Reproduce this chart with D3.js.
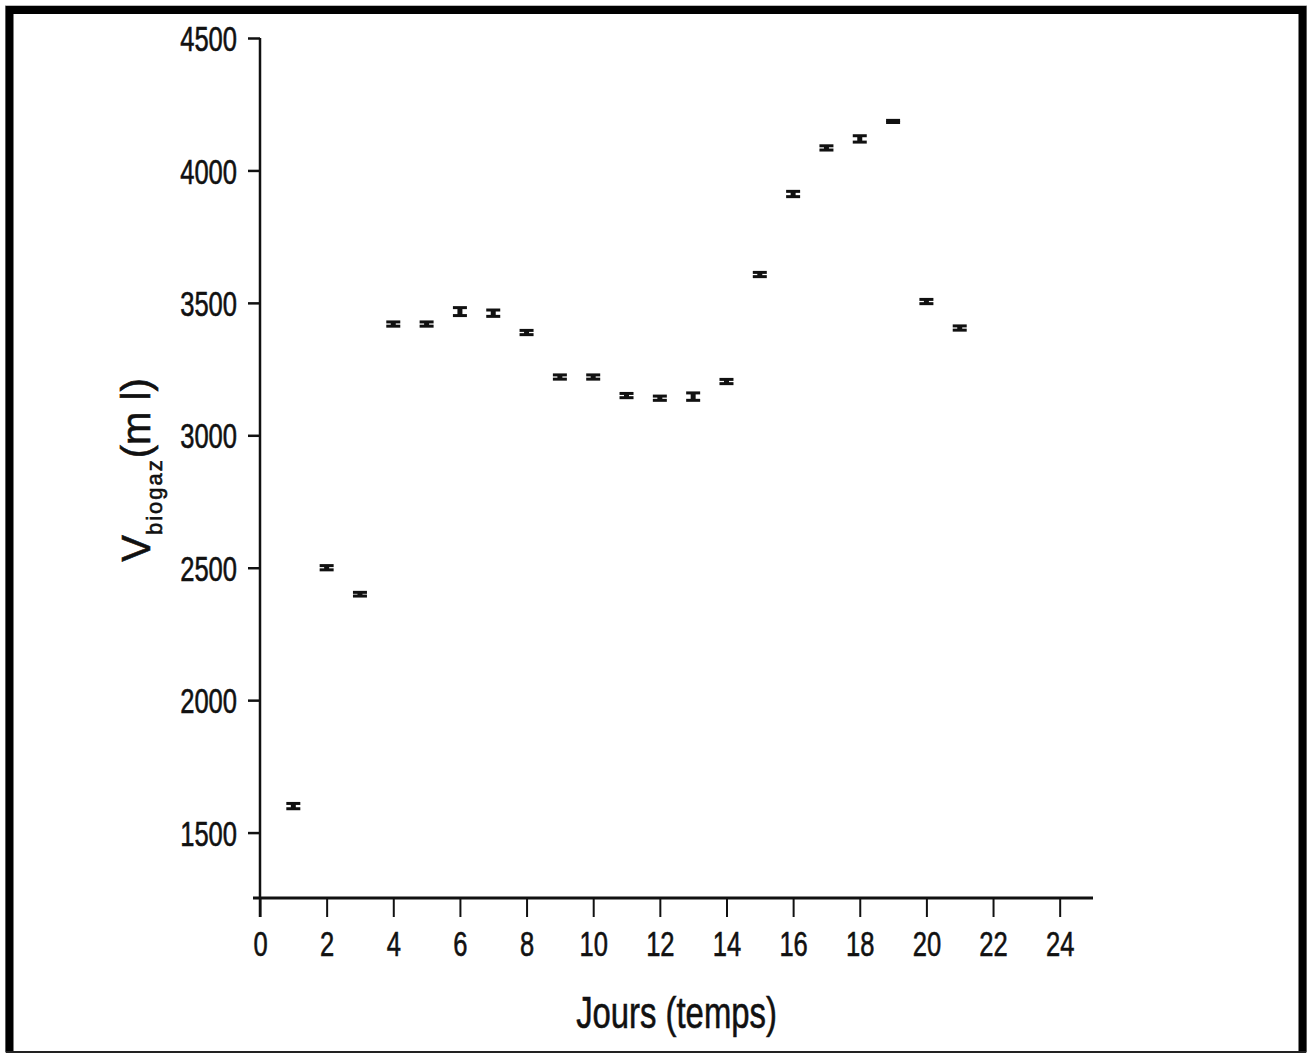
<!DOCTYPE html>
<html>
<head>
<meta charset="utf-8">
<script src="https://cdn.jsdelivr.net/npm/d3@7"></script>
<style>
  body { margin: 0; background: #fff; }
  text { font-family: 'Liberation Sans Narrow', 'Arial Narrow', 'Liberation Sans', Arial, sans-serif; fill: #111; stroke: #111; stroke-width: 0.6; }
</style>
</head>
<body>
<div class="container"></div>
<script>
'use strict'

// days (Jours)
const days = [1, 2, 3, 4, 5, 6, 7, 8, 9, 10, 11, 12, 13, 14, 15, 16, 17, 18, 19, 20, 21]
// biogas volume (ml)
const volumes = [1600, 2500, 2400, 3420, 3420, 3467, 3461, 3388, 3220, 3220, 3150, 3140, 3146, 3203, 3607, 3911, 4085, 4119, 4185, 3505, 3405]
// error half-widths (ml)
const errors = [10, 8, 7, 8, 8, 15, 12, 8, 8, 8, 8, 8, 14, 8, 8, 10, 8, 12, 4, 8, 8]

const xTicks = [0, 2, 4, 6, 8, 10, 12, 14, 16, 18, 20, 22, 24]
const yTicks = [1500, 2000, 2500, 3000, 3500, 4000, 4500]

const width = 1310
const height = 1054
const squeeze = 0.73 // condensed look of the original font

const svg = d3.select('.container').append('svg')
  .attr('width', width)
  .attr('height', height)

svg.append('rect').attr('width', width).attr('height', height).attr('fill', '#fff')

// frame around the figure
svg.append('rect')
  .attr('x', 5.5).attr('y', 5.5)
  .attr('width', 1301).attr('height', 1047)
  .attr('fill', 'none').attr('stroke', '#bbb').attr('stroke-width', 1)
svg.append('path')
  .attr('d', 'M9.5,1052 L9.5,10 L1302.5,10 L1302.5,1052')
  .attr('fill', 'none').attr('stroke', '#000').attr('stroke-width', 8)
svg.append('line')
  .attr('x1', 6).attr('x2', 1306).attr('y1', 1052).attr('y2', 1052)
  .attr('stroke', '#222').attr('stroke-width', 2)

const x = d3.scaleLinear().domain([0, 25]).range([260, 1093])
const y = d3.scaleLinear().domain([1253, 4500]).range([898, 38])

function condense(sel) {
  sel.each(function () {
    const t = d3.select(this)
    const tx = +t.attr('x') || 0
    t.attr('x', tx / squeeze).attr('transform', `scale(${squeeze},1)`)
  })
}

// x axis
const gX = svg.append('g').attr('transform', 'translate(0,898)')
gX.call(d3.axisBottom(x).tickValues(d3.range(0, 26, 1)).tickSize(10).tickFormat(''))
gX.call(d3.axisBottom(x).tickValues(xTicks).tickSize(19).tickPadding(14).tickFormat(d3.format('d')))
gX.selectAll('.domain').remove()
gX.selectAll('line').attr('stroke', '#111').attr('stroke-width', 2)
gX.selectAll('text').attr('font-size', 35).attr('fill', '#111').call(condense)
gX.append('line').attr('x1', 253).attr('x2', x(25)).attr('stroke', '#111').attr('stroke-width', 3)

// y axis
const gY = svg.append('g').attr('transform', 'translate(260,0)')
gY.call(d3.axisLeft(y).tickValues(d3.range(1750, 4500, 500)).tickSize(5).tickFormat(''))
gY.call(d3.axisLeft(y).tickValues(yTicks).tickSize(12).tickPadding(11).tickFormat(d3.format('d')))
gY.selectAll('.domain').remove()
gY.selectAll('line').attr('stroke', '#111').attr('stroke-width', 2.5)
gY.selectAll('text').attr('font-size', 35).attr('fill', '#111').attr('dy', '0.36em').call(condense)
gY.append('line').attr('y1', y(4500)).attr('y2', 917).attr('stroke', '#111').attr('stroke-width', 2.5)

// error bars
const data = days.map((d, i) => ({ day: d, v: volumes[i], e: errors[i] }))
const bars = svg.append('g').selectAll('.bar')
  .data(data)
  .enter()
  .append('g')
  .attr('class', 'bar')
  .attr('stroke', '#111')
  .attr('stroke-width', 3)

bars.append('line')
  .attr('x1', d => x(d.day)).attr('x2', d => x(d.day))
  .attr('y1', d => y(d.v - d.e)).attr('y2', d => y(d.v + d.e))
  .attr('stroke-width', 5)
bars.append('line')
  .attr('x1', d => x(d.day) - 7).attr('x2', d => x(d.day) + 7)
  .attr('y1', d => y(d.v + d.e)).attr('y2', d => y(d.v + d.e))
bars.append('line')
  .attr('x1', d => x(d.day) - 7).attr('x2', d => x(d.day) + 7)
  .attr('y1', d => y(d.v - d.e)).attr('y2', d => y(d.v - d.e))

// axis titles
svg.append('text')
  .attr('transform', `translate(${x(12.5)},1028) scale(${squeeze},1)`)
  .attr('text-anchor', 'middle')
  .attr('font-size', 45)
  .text('Jours (temps)')

const yLabel = svg.append('text')
  .attr('transform', 'translate(150,470) rotate(-90)')
  .attr('text-anchor', 'middle')
  .attr('font-size', 40)
yLabel.append('tspan').text('V')
yLabel.append('tspan').attr('font-size', 22).attr('dy', 12).attr('letter-spacing', 2).text('biogaz')
yLabel.append('tspan').attr('dy', -12).text('(m l)')
</script>
</body>
</html>
